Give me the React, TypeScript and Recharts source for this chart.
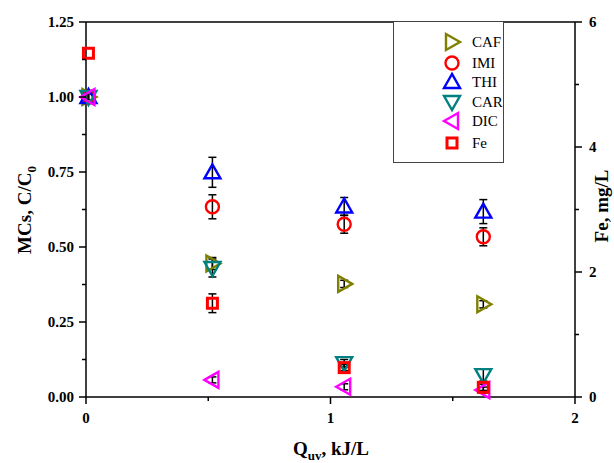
import React from "react";
import { ScatterChart, Scatter, XAxis, YAxis, ErrorBar, ReferenceLine, Label } from "recharts";

// Q_uv energy dose, kJ/L
const qUv = [0.01, 0.517, 1.056, 1.625];

// normalized micro-contaminant concentrations, C/C0
const caf = [1.0, 0.445, 0.377, 0.309];
const cafErr = [0.01, 0.02, 0.012, 0.012];
const imi = [1.0, 0.634, 0.576, 0.534];
const imiErr = [0.01, 0.04, 0.03, 0.03];
const thi = [1.0, 0.749, 0.635, 0.618];
const thiErr = [0.01, 0.05, 0.03, 0.04];
const car = [1.0, 0.43, 0.113, 0.073];
const carErr = [0.01, 0.03, 0.012, 0.02];
const dic = [1.0, 0.057, 0.034, 0.023];
const dicErr = [0.01, 0.01, 0.01, 0.01];

// dissolved iron, mg/L
const fe = [5.5, 1.5, 0.47, 0.155];
const feErr = [0, 0.15, 0.05, 0.05];

const xTicks = [0, 0.5, 1, 1.5, 2];
const mcTicks = [0, 0.125, 0.25, 0.375, 0.5, 0.625, 0.75, 0.875, 1, 1.125, 1.25];
const feTicks = [0, 1, 2, 3, 4, 5, 6];

const W = 614;
const H = 463;
// plot area: x 86..575, y 22..397
const PLOT = { left: 86, right: 575, top: 22, bottom: 397 };
const LEFT_W = 60;
const RIGHT_W = 30;
const X_H = 40;
const M = {
  top: PLOT.top,
  left: PLOT.left - LEFT_W,
  right: W - PLOT.right - RIGHT_W,
  bottom: H - PLOT.bottom - X_H,
};
const FONT = '"Liberation Serif", "Times New Roman", serif';

const rows = (ys: number[], errs: number[]) => ys.map((y, i) => ({ x: qUv[i], y, err: errs[i] }));

type Kind = "right" | "left" | "up" | "down" | "circle" | "square";

function Marker({ cx, cy, kind, color }: { cx: number; cy: number; kind: Kind; color: string }) {
  const common = { fill: "none", stroke: color, strokeWidth: 2.4, strokeLinejoin: "miter" as const };
  switch (kind) {
    case "up":
      return <polygon {...common} points={`${cx},${cy - 8} ${cx - 8},${cy + 6} ${cx + 8},${cy + 6}`} />;
    case "down":
      return <polygon {...common} points={`${cx},${cy + 8} ${cx - 8},${cy - 6} ${cx + 8},${cy - 6}`} />;
    case "right":
      return <polygon {...common} points={`${cx + 8},${cy} ${cx - 6},${cy - 8} ${cx - 6},${cy + 8}`} />;
    case "left":
      return <polygon {...common} points={`${cx - 8},${cy} ${cx + 6},${cy - 8} ${cx + 6},${cy + 8}`} />;
    case "circle":
      return <circle {...common} cx={cx} cy={cy} r={6.5} />;
    default:
      return <rect {...common} strokeWidth={3} x={cx - 5} y={cy - 5} width={10} height={10} />;
  }
}

const series: { name: string; kind: Kind; color: string; data: { x: number; y: number; err: number }[]; axis: string }[] = [
  { name: "CAF", kind: "right", color: "#808000", data: rows(caf, cafErr), axis: "mc" },
  { name: "IMI", kind: "circle", color: "#ff0000", data: rows(imi, imiErr), axis: "mc" },
  { name: "THI", kind: "up", color: "#0000ff", data: rows(thi, thiErr), axis: "mc" },
  { name: "CAR", kind: "down", color: "#008080", data: rows(car, carErr), axis: "mc" },
  { name: "DIC", kind: "left", color: "#ff00ff", data: rows(dic, dicErr), axis: "mc" },
  { name: "Fe", kind: "square", color: "#ff0000", data: rows(fe, feErr), axis: "fe" },
];

const tickText = { fontFamily: FONT, fontSize: 15, fontWeight: 700, fill: "#000" };

function LeftTick({ y, payload }: any) {
  const major = Math.abs((payload.value / 0.25) % 1) < 1e-6;
  return (
    <g>
      <line x1={PLOT.left} x2={PLOT.left - (major ? 7 : 4)} y1={y} y2={y} stroke="#000" strokeWidth={1.5} />
      {major && (
        <text x={PLOT.left - 12} y={y} dy={5} textAnchor="end" {...tickText}>
          {payload.value.toFixed(2)}
        </text>
      )}
    </g>
  );
}

function RightTick({ y, payload }: any) {
  const major = payload.value % 2 === 0;
  return (
    <g>
      <line x1={PLOT.right} x2={PLOT.right + (major ? 7 : 4)} y1={y} y2={y} stroke="#000" strokeWidth={1.5} />
      {major && (
        <text x={PLOT.right + 14} y={y} dy={5} textAnchor="start" {...tickText}>
          {payload.value}
        </text>
      )}
    </g>
  );
}

function BottomTick({ x, payload }: any) {
  const major = payload.value % 1 === 0;
  return (
    <g>
      <line x1={x} x2={x} y1={PLOT.bottom} y2={PLOT.bottom + (major ? 7 : 4)} stroke="#000" strokeWidth={1.5} />
      {major && (
        <text x={x} y={PLOT.bottom + 26} textAnchor="middle" {...tickText}>
          {payload.value}
        </text>
      )}
    </g>
  );
}

function LegendBox() {
  return (
    <div
      style={{
        position: "absolute",
        left: 393,
        top: 22,
        width: 111,
        height: 141,
        border: "1px solid #444",
        borderTop: "none",
        background: "#fff",
        boxSizing: "border-box",
      }}
    >
      <svg width={111} height={141} style={{ display: "block" }}>
        {series.map((s, i) => {
          const cy = [20, 41, 60, 80, 99, 121][i];
          return (
            <g key={s.name}>
              <Marker cx={58} cy={cy} kind={s.kind} color={s.color} />
              <text x={78} y={cy + 5} fontFamily={FONT} fontSize={15} fill="#000">
                {s.name}
              </text>
            </g>
          );
        })}
      </svg>
    </div>
  );
}

const axisLine = { stroke: "#000", strokeWidth: 1.5 };

export default function App() {
  return (
    <div style={{ position: "absolute", left: 0, top: 0, width: W, height: H, background: "#fff" }}>
      <ScatterChart width={W} height={H} margin={M}>
        <XAxis
          type="number"
          dataKey="x"
          domain={[0, 2]}
          ticks={xTicks}
          height={X_H}
          axisLine={axisLine}
          tickLine={false}
          tick={<BottomTick />}
          interval={0}
        >
          <Label
            content={() => (
              <text x={331} y={455} textAnchor="middle" fontFamily={FONT} fontSize={19} fontWeight={700} fill="#000">
                Q<tspan fontSize={13} dy={5}>uv</tspan>
                <tspan dy={-5}>, kJ/L</tspan>
              </text>
            )}
          />
        </XAxis>
        <YAxis
          yAxisId="mc"
          type="number"
          dataKey="y"
          domain={[0, 1.25]}
          ticks={mcTicks}
          width={LEFT_W}
          axisLine={axisLine}
          tickLine={false}
          tick={<LeftTick />}
          interval={0}
        >
          <Label
            content={() => (
              <text
                x={0}
                y={0}
                transform="translate(31 210) rotate(-90)"
                textAnchor="middle"
                fontFamily={FONT}
                fontSize={19}
                fontWeight={700}
                fill="#000"
              >
                MCs, C/C<tspan fontSize={13} dy={5}>0</tspan>
              </text>
            )}
          />
        </YAxis>
        <YAxis
          yAxisId="fe"
          orientation="right"
          type="number"
          dataKey="y"
          domain={[0, 6]}
          ticks={feTicks}
          width={RIGHT_W}
          axisLine={axisLine}
          tickLine={false}
          tick={<RightTick />}
          interval={0}
        >
          <Label
            content={() => (
              <text
                x={0}
                y={0}
                transform="translate(608 206) rotate(-90)"
                textAnchor="middle"
                fontFamily={FONT}
                fontSize={19}
                fontWeight={700}
                fill="#000"
              >
                Fe, mg/L
              </text>
            )}
          />
        </YAxis>
        <ReferenceLine yAxisId="mc" y={1.25} stroke="#000" strokeWidth={1.5} />
        {series.map((s) => (
          <Scatter
            key={s.name}
            name={s.name}
            yAxisId={s.axis}
            data={s.data}
            isAnimationActive={false}
            shape={(p: any) => <Marker cx={p.cx} cy={p.cy} kind={s.kind} color={s.color} />}
          >
            <ErrorBar dataKey="err" direction="y" width={4} stroke="#000" strokeWidth={1.5} />
          </Scatter>
        ))}
      </ScatterChart>
      <LegendBox />
    </div>
  );
}
